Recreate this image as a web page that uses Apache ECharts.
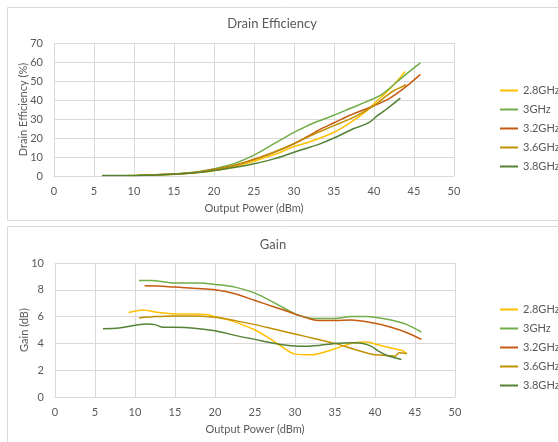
<!DOCTYPE html>
<html><head><meta charset="utf-8">
<script src="https://cdn.jsdelivr.net/npm/echarts@6/dist/echarts.min.js"></script>
<style>html,body{margin:0;padding:0;background:#fff}#c{width:558px;height:442px}</style>
</head><body><div id="c"></div>
<script>
// Output power sweep (dBm) per frequency
const x28 = [9.2, 11, 13, 15, 17, 19, 20, 22, 25, 27, 28, 30, 32, 35, 37, 39, 40, 42, 43.5, 43.9];
const x30 = [10.5, 12, 15, 18, 20, 22.5, 25, 27.5, 30, 31, 32.5, 35, 37, 39, 41, 43, 44, 45.8];
const x32 = [11.2, 13, 15, 18, 20, 22.5, 25, 27.5, 30, 32, 33, 35, 37, 40, 42, 44, 45.8];
const x36 = [10.5, 12.5, 15, 17, 20, 22.5, 25, 27.5, 30, 32.5, 35, 37.5, 40, 41.5, 42.5, 43, 44];
const x38 = [6, 8, 10, 11.5, 12.5, 13.5, 15, 18, 20, 22.5, 25, 27.5, 30, 31.5, 33, 35, 37.5, 38.5, 39.5, 40.5, 41.5, 43.3];
// Drain efficiency (%)
const eff28 = [0.3, 0.4, 0.6, 0.9, 1.4, 2.2, 2.8, 4.2, 7.8, 10.5, 12, 15.5, 18, 23, 28, 34, 38, 46, 53, 55];
const eff30 = [0.4, 0.6, 1.0, 2.2, 3.8, 6.5, 11, 17, 23, 25, 28, 32, 35.5, 39, 43, 50, 53.5, 59.5];
const eff32 = [0.5, 0.7, 1.0, 2.0, 3.4, 5.5, 8.8, 12.5, 17, 21.5, 24, 28, 32, 37, 41, 47, 53.5];
const eff36 = [0.4, 0.6, 1.0, 1.6, 3.3, 5.5, 8.6, 12.5, 17, 22, 26.5, 31, 37, 42, 45, 46, 48];
const eff38 = [0.3, 0.3, 0.3, 0.4, 0.5, 0.6, 0.9, 1.8, 2.9, 4.5, 6.5, 9, 12.5, 14.5, 16.5, 20, 25, 26.5, 28.5, 32, 35, 41];
// Gain (dB)
const gain28 = [6.3, 6.5, 6.3, 6.2, 6.2, 6.15, 6.0, 5.7, 5.0, 4.3, 3.9, 3.2, 3.15, 3.6, 4.0, 4.1, 3.95, 3.65, 3.45, 3.2];
const gain30 = [8.7, 8.7, 8.5, 8.5, 8.4, 8.2, 7.75, 7.0, 6.2, 6.0, 5.85, 5.85, 6.0, 6.0, 5.85, 5.6, 5.4, 4.85];
const gain32 = [8.3, 8.28, 8.2, 8.1, 8.0, 7.7, 7.2, 6.7, 6.2, 5.8, 5.7, 5.7, 5.75, 5.5, 5.2, 4.8, 4.3];
const gain36 = [5.9, 6.0, 6.05, 6.05, 5.95, 5.7, 5.4, 5.05, 4.7, 4.35, 4.0, 3.55, 3.15, 3.1, 3.05, 3.3, 3.25];
const gain38 = [5.1, 5.15, 5.35, 5.45, 5.4, 5.2, 5.2, 5.1, 4.95, 4.6, 4.3, 4.0, 3.8, 3.78, 3.85, 4.0, 4.05, 4.0, 3.8, 3.4, 3.1, 2.8];
const names = ['2.8GHz', '3GHz', '3.2GHz', '3.6GHz', '3.8GHz'];
const xTicks = [0, 5, 10, 15, 20, 25, 30, 35, 40, 45, 50];
const effTicks = [0, 10, 20, 30, 40, 50, 60, 70];
const gainTicks = [0, 2, 4, 6, 8, 10];

const colors = ['#FFC000', '#70AD47', '#C55A11', '#BF9000', '#548235'];
const xs = [x28, x30, x32, x36, x38];
const effs = [eff28, eff30, eff32, eff36, eff38];
const gains = [gain28, gain30, gain32, gain36, gain38];
const FONT = 'Lato';
const txt = '#595959';
const grid = '#d9d9d9';

function pairs(x, y) { return x.map((v, i) => [v, y[i]]); }

function xAxis(gi) {
  return {
    type: 'value', gridIndex: gi, min: xTicks[0], max: xTicks[xTicks.length - 1], interval: xTicks[1] - xTicks[0],
    name: 'Output Power (dBm)', nameLocation: 'middle', nameGap: 27,
    nameTextStyle: { color: txt, fontFamily: FONT, fontSize: 11 },
    axisLine: { lineStyle: { color: grid } }, axisTick: { show: false },
    axisLabel: { color: txt, fontFamily: FONT, fontSize: 11, margin: 10 },
    splitLine: { show: true, lineStyle: { color: grid } }
  };
}
function yAxis(gi, ticks, name) {
  return {
    type: 'value', gridIndex: gi, min: ticks[0], max: ticks[ticks.length - 1], interval: ticks[1] - ticks[0],
    name: name, nameLocation: 'middle', nameGap: 25, nameMoveOverlap: false,
    nameTextStyle: { color: txt, fontFamily: FONT, fontSize: 11 },
    axisLine: { show: false }, axisTick: { show: false },
    axisLabel: { color: txt, fontFamily: FONT, fontSize: 11, margin: 11 },
    splitLine: { show: true, lineStyle: { color: grid } }
  };
}
const series = [];
names.forEach((n, i) => {
  series.push({ name: n, type: 'line', xAxisIndex: 0, yAxisIndex: 0, data: pairs(xs[i], effs[i]),
    smooth: 0.3, showSymbol: false, lineStyle: { width: 1.5, color: colors[i] }, itemStyle: { color: colors[i] } });
  series.push({ name: n, type: 'line', xAxisIndex: 1, yAxisIndex: 1, data: pairs(xs[i], gains[i]),
    smooth: 0.3, showSymbol: false, lineStyle: { width: 1.5, color: colors[i] }, itemStyle: { color: colors[i] } });
});
function legend(top) {
  return { data: names, orient: 'vertical', left: 500, top: top, padding: 0, icon: 'rect', itemWidth: 18, itemHeight: 2,
    itemGap: 8, textStyle: { color: txt, fontFamily: FONT, fontSize: 11 } };
}
const chart = echarts.init(document.getElementById('c'), null, { renderer: 'canvas' });
chart.setOption({
  animation: false,
  graphic: [
    { type: 'rect', shape: { x: 7.5, y: 7.5, width: 600, height: 213 }, style: { fill: 'none', stroke: '#d9d9d9', lineWidth: 1 }, z: -1 },
    { type: 'rect', shape: { x: 7.5, y: 226.5, width: 600, height: 300 }, style: { fill: 'none', stroke: '#d9d9d9', lineWidth: 1 }, z: -1 }
  ],
  title: [
    { text: 'Drain Efficiency', left: 267, top: 12, textAlign: 'center', textStyle: { color: txt, fontFamily: FONT, fontSize: 13, fontWeight: 'normal' } },
    { text: 'Gain', left: 268, top: 233, textAlign: 'center', textStyle: { color: txt, fontFamily: FONT, fontSize: 13, fontWeight: 'normal' } }
  ],
  legend: [legend(85), legend(304)],
  grid: [
    { left: 54, top: 43, width: 400, height: 133 },
    { left: 55, top: 263, width: 400, height: 134 }
  ],
  xAxis: [xAxis(0), xAxis(1)],
  yAxis: [yAxis(0, effTicks, 'Drain Efficiency (%)'), yAxis(1, gainTicks, 'Gain (dB)')],
  series: series
});
</script></body></html>
